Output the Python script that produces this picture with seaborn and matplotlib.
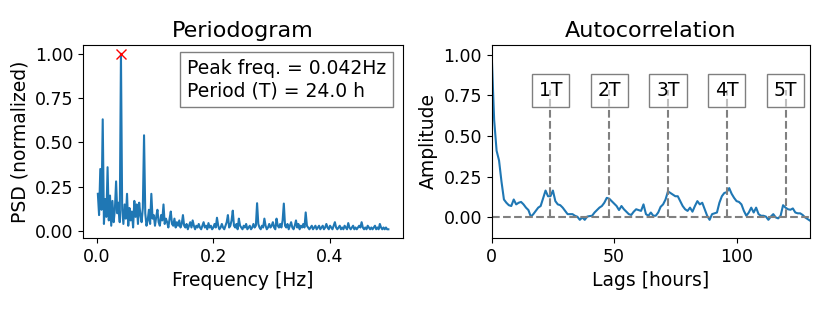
import numpy as np
import matplotlib
matplotlib.use("Agg")
import matplotlib.pyplot as plt
import seaborn as sns

# periodogram (normalized PSD), one value per frequency bin k/480 Hz
psd = [
    0.21, 0.09, 0.35, 0.12, 0.63, 0.04, 0.18, 0.08, 0.36, 0.06,
    0.20, 0.03, 0.17, 0.05, 0.12, 0.28, 0.10, 0.16, 0.05, 1.00,
    0.12, 0.04, 0.15, 0.07, 0.21, 0.03, 0.13, 0.06, 0.11, 0.02,
    0.17, 0.08, 0.15, 0.04, 0.16, 0.09, 0.05, 0.13, 0.54, 0.10,
    0.03, 0.06, 0.12, 0.04, 0.21, 0.07, 0.09, 0.03, 0.08, 0.12,
    0.05, 0.03, 0.09, 0.06, 0.15, 0.04, 0.07, 0.05, 0.02, 0.07,
    0.11, 0.04, 0.03, 0.07, 0.02, 0.05, 0.03, 0.06, 0.02, 0.04,
    0.09, 0.03, 0.02, 0.04, 0.01, 0.03, 0.05, 0.02, 0.06, 0.03,
    0.01, 0.03, 0.02, 0.04, 0.02, 0.01, 0.03, 0.05, 0.02, 0.03,
    0.01, 0.045, 0.02, 0.03, 0.01, 0.02, 0.04, 0.02, 0.075, 0.03,
    0.01, 0.02, 0.04, 0.02, 0.01, 0.03, 0.05, 0.09, 0.02, 0.03,
    0.06, 0.115, 0.03, 0.02, 0.04, 0.01, 0.07, 0.03, 0.02, 0.01,
    0.03, 0.02, 0.04, 0.01, 0.02, 0.03, 0.01, 0.02, 0.04, 0.02,
    0.03, 0.157, 0.04, 0.02, 0.01, 0.03, 0.02, 0.07, 0.03, 0.01,
    0.02, 0.04, 0.02, 0.03, 0.05, 0.02, 0.01, 0.07, 0.03, 0.02,
    0.04, 0.02, 0.06, 0.155, 0.03, 0.02, 0.04, 0.01, 0.03, 0.05,
    0.02, 0.01, 0.03, 0.06, 0.02, 0.04, 0.01, 0.03, 0.02, 0.04,
    0.02, 0.105, 0.03, 0.02, 0.01, 0.02, 0.03, 0.01, 0.02, 0.03,
    0.01, 0.02, 0.03, 0.01, 0.02, 0.03, 0.01, 0.02, 0.04, 0.02,
    0.01, 0.03, 0.02, 0.01, 0.03, 0.05, 0.02, 0.01, 0.02, 0.03,
    0.01, 0.02, 0.01, 0.03, 0.02, 0.01, 0.045, 0.02, 0.01, 0.02,
    0.03, 0.01, 0.02, 0.01, 0.02, 0.03, 0.02, 0.05, 0.02, 0.01,
    0.02, 0.01, 0.03, 0.02, 0.01, 0.02, 0.01, 0.02, 0.03, 0.01,
    0.02, 0.01, 0.04, 0.02, 0.01, 0.02, 0.01, 0.02, 0.01, 0.01,
]
freqs = np.arange(1, len(psd) + 1) / 480

# autocorrelation, lag 0..132 hours
acf = [
    1.00, 0.60, 0.41, 0.35, 0.22, 0.11, 0.09, 0.075, 0.07, 0.11,
    0.08, 0.09, 0.095, 0.08, 0.06, 0.045, 0.004, 0.02, 0.04, 0.06,
    0.07, 0.117, 0.165, 0.13, 0.13, 0.165, 0.10, 0.08, 0.075, 0.06,
    0.04, 0.02, 0.02, 0.02, 0.01, 0.004, -0.015, 0.0, -0.015, 0.005,
    0.008, 0.01, 0.03, 0.045, 0.06, 0.07, 0.09, 0.12, 0.115, 0.10,
    0.085, 0.07, 0.045, 0.07, 0.05, 0.035, 0.02, 0.015, 0.035, 0.05,
    0.045, 0.04, 0.08, 0.02, 0.01, 0.03, 0.01, 0.01, 0.03, 0.065,
    0.08, 0.11, 0.16, 0.15, 0.14, 0.13, 0.13, 0.10, 0.07, 0.05,
    0.04, 0.06, 0.035, 0.07, 0.10, 0.08, 0.09, 0.05, 0.01, -0.015,
    0.02, 0.025, 0.03, 0.09, 0.13, 0.15, 0.155, 0.18, 0.145, 0.12,
    0.10, 0.095, 0.08, 0.04, 0.01, 0.03, 0.06, 0.03, 0.06, 0.02,
    0.01, 0.01, 0.005, -0.015, 0.005, 0.02, 0.0, -0.006, 0.01, 0.075,
    0.06, 0.05, 0.047, 0.055, 0.03, 0.025, 0.025, 0.015, 0.0, -0.01,
    -0.02, -0.025, -0.01,
]
lags = np.arange(len(acf))

peak_freq = 0.042
period_h = 24.0
period_marks = ["1T", "2T", "3T", "4T", "5T"]

plt.rcParams["font.family"] = ["DejaVu Sans"]
fig = plt.figure(figsize=(8.3, 3.12), dpi=100)
ax1 = fig.add_axes([0.1004, 0.237, 0.385, 0.619])
ax2 = fig.add_axes([0.5924, 0.237, 0.3835, 0.619])

# --- periodogram
sns.lineplot(x=freqs, y=psd, ax=ax1, color="#1f77b4", linewidth=1.5)
ax1.plot(freqs[int(np.argmax(psd))], max(psd), "x", color="red", markersize=6.5)
ax1.text(0.325, 0.925, f"Peak freq. = {peak_freq:.3f}Hz\nPeriod (T) = {period_h:.1f} h",
         transform=ax1.transAxes, ha="left", va="top", fontsize=13.5,
         bbox=dict(facecolor="white", alpha=0.5, pad=5))
ax1.set_yticks([0, 0.25, 0.5, 0.75, 1.0])
ax1.set_xticks([0, 0.2, 0.4])
ax1.set_title("Periodogram", fontsize=16)
ax1.set_xlabel("Frequency [Hz]", fontsize=13.5)
ax1.set_ylabel("PSD (normalized)", fontsize=13.5)

# --- autocorrelation
sns.lineplot(x=lags, y=acf, ax=ax2, color="#1f77b4", linewidth=1.5)
ax2.axhline(0, color="gray", linestyle="--", linewidth=1.5)
for i, lab in enumerate(period_marks):
    lag = period_h * (i + 1)
    ax2.vlines(lag, 0, 0.78, color="gray", linestyle="--", linewidth=1.5)
    ax2.text(lag, 0.78, lab, ha="center", va="center", fontsize=13.5,
             bbox=dict(facecolor="white", alpha=0.5, pad=5))
ax2.set_xlim(0, 130)
ax2.set_ylim(-0.127, 1.06)
ax2.set_yticks([0, 0.25, 0.5, 0.75, 1.0])
ax2.set_xticks([0, 50, 100])
ax2.set_title("Autocorrelation", fontsize=16)
ax2.set_xlabel("Lags [hours]", fontsize=13.5)
ax2.set_ylabel("Amplitude", fontsize=13.5)

for ax in (ax1, ax2):
    ax.tick_params(labelsize=12.5)

fig.savefig("out.png", dpi=100)
